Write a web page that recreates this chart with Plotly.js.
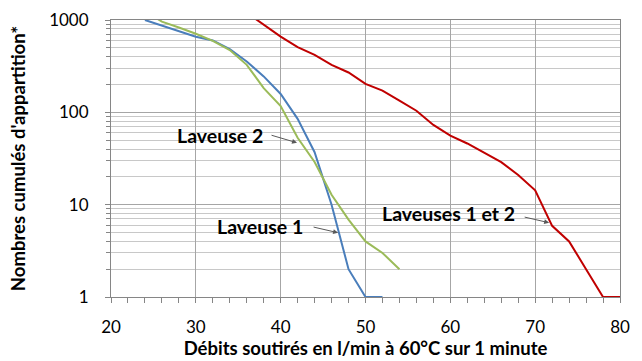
<!DOCTYPE html>
<html>
<head>
<meta charset="utf-8">
<script src="https://cdn.plot.ly/plotly-3.0.1.min.js"></script>
<style>html,body{margin:0;padding:0;background:#fff;}#chart{width:642px;height:361px;}</style>
</head>
<body>
<div id="chart"></div>
<script>
// Data
const xLaveuse1 = [24, 26, 28, 30, 32, 34, 36, 38, 40, 42, 44, 46, 48, 50, 52];
const yLaveuse1 = [1000, 870, 760, 660, 600, 483, 355, 245, 158, 85, 37, 10, 2, 1, 1];

const xLaveuse2 = [24, 26, 28, 30, 32, 34, 36, 38, 40, 42, 44, 46, 48, 50, 52, 54];
const yLaveuse2 = [1250, 960, 830, 710, 595, 472, 327, 183, 117, 53, 29, 12.8, 6.9, 4, 3, 2];

const xLaveuses12 = [36, 38, 40, 42, 44, 46, 48, 50, 52, 54, 56, 58, 60, 62, 64, 66, 68, 70, 72, 74, 76, 78, 80];
const yLaveuses12 = [1200, 880, 660, 508, 419, 327, 270, 203, 172, 134, 104, 73, 56, 46, 36.7, 28.9, 21, 14.3, 5.9, 4, 2, 1, 1];

const yTickVals = [1, 10, 100, 1000];
const yTickText = ['1', '10', '100', '1000'];
const xTickVals = [20, 30, 40, 50, 60, 70, 80];

const labels = ['Laveuse 2', 'Laveuse 1', 'Laveuses 1 et 2'];

const FONT = 'Lato, "Open Sans", sans-serif';

const traces = [
  {x: xLaveuse1, y: yLaveuse1, mode: 'lines', line: {color: '#4a7ebb', width: 2}, name: labels[1]},
  {x: xLaveuse2, y: yLaveuse2, mode: 'lines', line: {color: '#9bbb59', width: 2}, name: labels[0]},
  {x: xLaveuses12, y: yLaveuses12, mode: 'lines', line: {color: '#c00000', width: 2}, name: labels[2]}
];

const txtFont = {family: FONT, size: 19.5, color: '#000'};
const arrowStyle = {showarrow: true, arrowhead: 2, arrowsize: 1, arrowwidth: 1, arrowcolor: '#595959', text: ''};

const annotations = [
  {x: 32.85, y: 1.746, xref: 'x', yref: 'y', text: '<b>' + labels[0] + '</b>', showarrow: false, font: txtFont},
  {x: 37.57, y: 0.761, xref: 'x', yref: 'y', text: '<b>' + labels[1] + '</b>', showarrow: false, font: txtFont},
  {x: 59.74, y: 0.9015, xref: 'x', yref: 'y', text: '<b>' + labels[2] + '</b>', showarrow: false, font: txtFont},
  Object.assign({x: 41.93, y: 1.67, xref: 'x', yref: 'y', ax: -27, ay: -8}, arrowStyle),
  Object.assign({x: 46.77, y: 0.696, xref: 'x', yref: 'y', ax: -26, ay: -6}, arrowStyle),
  Object.assign({x: 71.65, y: 0.804, xref: 'x', yref: 'y', ax: -26, ay: -6}, arrowStyle)
];

const layout = {
  width: 642, height: 361,
  margin: {l: 111, r: 22, t: 20, b: 64},
  paper_bgcolor: '#fff', plot_bgcolor: '#fff',
  showlegend: false,
  font: {family: FONT, color: '#000'},
  xaxis: {
    range: [20, 80],
    tickvals: xTickVals,
    ticks: 'outside', ticklen: 5, tickcolor: '#868686',
    ticklabelstandoff: 10,
    showgrid: true, gridcolor: '#a6a6a6', gridwidth: 1,
    showline: true, linecolor: '#868686', mirror: true,
    zeroline: false,
    tickfont: {family: FONT, size: 17, color: '#000'},
    minor: {dtick: 2, ticks: 'outside', ticklen: 5, tickcolor: '#868686', showgrid: false},
    title: {text: '<b>Débits soutirés en l/min à 60°C sur 1 minute</b>', font: {family: FONT, size: 18.5, color: '#000'}, standoff: 4}
  },
  yaxis: {
    type: 'log',
    range: [0, 3],
    tickvals: yTickVals, ticktext: yTickText,
    ticks: 'outside', ticklen: 5, tickcolor: '#868686',
    ticklabelstandoff: 13,
    showgrid: true, gridcolor: '#a6a6a6', gridwidth: 1,
    showline: true, linecolor: '#868686', mirror: true,
    zeroline: false,
    tickfont: {family: FONT, size: 17, color: '#000'},
    minor: {dtick: 'D1', ticks: 'outside', ticklen: 4, tickcolor: '#868686', showgrid: true, gridcolor: '#c8c8c8', gridwidth: 1},
    title: {text: "<b>Nombres cumulés d'appartition*</b>", font: {family: FONT, size: 18.5, color: '#000'}, standoff: 18}
  },
  annotations: annotations
};

Plotly.newPlot('chart', traces, layout, {staticPlot: true, displayModeBar: false});
</script>
</body>
</html>
